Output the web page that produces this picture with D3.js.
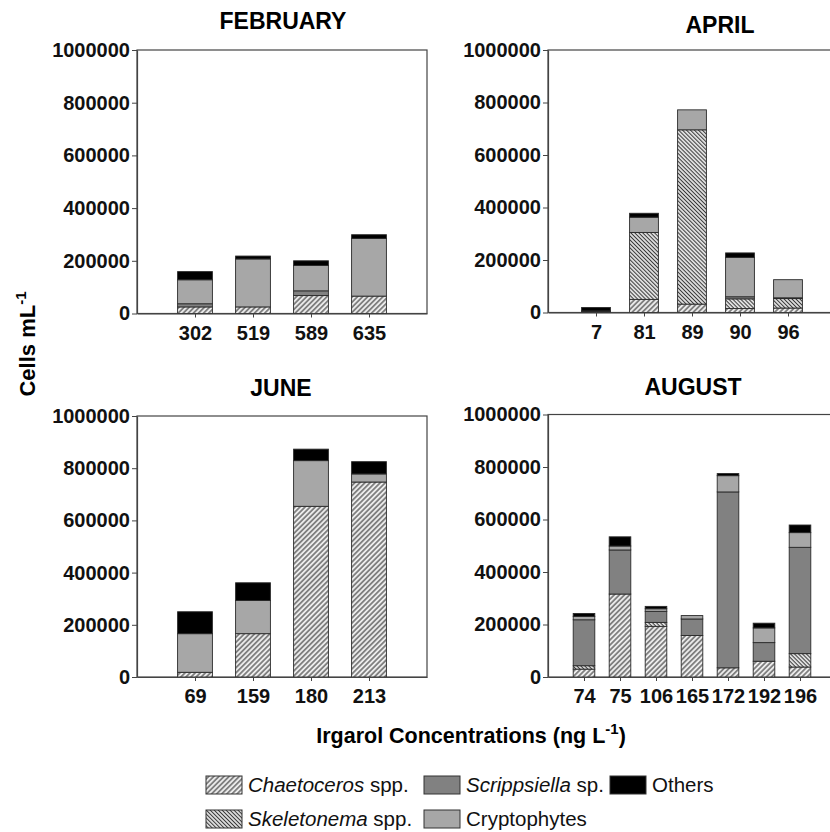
<!DOCTYPE html>
<html>
<head>
<meta charset="utf-8">
<script src="https://cdn.jsdelivr.net/npm/d3@7"></script>
<style>
  body { margin: 0; background: #fff; }
  svg { font-family: "Liberation Sans", Arial, sans-serif; }
  .axis path, .axis line { stroke: #444; }
  .axis text { font-size: 20px; font-weight: bold; fill: #111; }
</style>
</head>
<body>
<svg id="chart" width="830" height="832"></svg>
<script>
// stack order, bottom to top
const groups = ["chaet", "skel", "scripp", "crypto", "others"];

// FEBRUARY
const febConc = ["302", "519", "589", "635"];
const febChaet = [25000, 25000, 68000, 66000];
const febSkel = [0, 0, 0, 0];
const febScripp = [12000, 0, 18000, 0];
const febCrypto = [91000, 182000, 96000, 219000];
const febOthers = [31000, 11000, 18000, 14000];

// APRIL
const aprConc = ["7", "81", "89", "90", "96"];
const aprChaet = [3000, 50000, 32000, 15000, 17000];
const aprSkel = [3000, 255000, 664000, 37000, 36000];
const aprScripp = [0, 0, 0, 8000, 3000];
const aprCrypto = [0, 58000, 76000, 150000, 69000];
const aprOthers = [13000, 15000, 0, 17000, 0];

// JUNE
const junConc = ["69", "159", "180", "213"];
const junChaet = [18000, 166000, 654000, 747000];
const junSkel = [0, 0, 0, 0];
const junScripp = [0, 0, 0, 0];
const junCrypto = [148000, 127000, 175000, 31000];
const junOthers = [84000, 68000, 44000, 47000];

// AUGUST
const augConc = ["74", "75", "106", "165", "172", "192", "196"];
const augChaet = [30000, 316000, 193000, 158000, 35000, 60000, 38000];
const augSkel = [13000, 0, 15000, 0, 0, 0, 51000];
const augScripp = [175000, 168000, 42000, 63000, 670000, 71000, 405000];
const augCrypto = [13000, 15000, 10000, 13000, 62000, 56000, 56000];
const augOthers = [11000, 35000, 9000, 0, 8000, 18000, 29000];

const yTicks = [0, 200000, 400000, 600000, 800000, 1000000];

const svg = d3.select("#chart");

/*
 * Patterns for the two diatoms
 */
const defs = svg.append("defs");
function hatch(id, angle, gap) {
    const p = defs.append("pattern")
        .attr("id", id)
        .attr("patternUnits", "userSpaceOnUse")
        .attr("width", gap)
        .attr("height", gap)
        .attr("patternTransform", `rotate(${angle})`);
    p.append("rect").attr("width", gap).attr("height", gap).attr("fill", "#ececec");
    p.append("line")
        .attr("x1", gap / 2).attr("y1", 0)
        .attr("x2", gap / 2).attr("y2", gap)
        .attr("stroke", "#3a3a3a")
        .attr("stroke-width", 1.1);
}
hatch("hatchChaet", 45, 3.6);
hatch("hatchSkel", -45, 2.8);

const fills = {
    chaet: "url(#hatchChaet)",
    skel: "url(#hatchSkel)",
    scripp: "#818181",
    crypto: "#a7a7a7",
    others: "#000"
};

/**
 * One stacked bar panel
 */
function drawPanel(opt) {
    const rows = opt.conc.map((c, i) => ({
        conc: c,
        chaet: opt.chaet[i],
        skel: opt.skel[i],
        scripp: opt.scripp[i],
        crypto: opt.crypto[i],
        others: opt.others[i]
    }));

    const x = d3.scalePoint()
        .domain(opt.conc)
        .range([opt.left, opt.right])
        .padding(1);
    const y = d3.scaleLinear()
        .domain([0, 1000000])
        .range([opt.bottom, opt.top]);
    const bw = x.step() * 0.6;

    const g = svg.append("g");

    // frame
    g.append("rect")
        .attr("x", opt.left).attr("y", opt.top)
        .attr("width", opt.right - opt.left)
        .attr("height", opt.bottom - opt.top)
        .attr("fill", "none")
        .attr("stroke", "#444")
        .attr("stroke-width", 1.2);

    const stacked = d3.stack().keys(groups)(rows);

    g.selectAll("g.layer")
        .data(stacked)
        .enter()
        .append("g")
        .attr("class", "layer")
        .attr("fill", d => fills[d.key])
        .selectAll("rect")
        .data(d => d.filter(s => s[1] > s[0]))
        .enter()
        .append("rect")
        .attr("x", d => x(d.data.conc) - bw / 2)
        .attr("y", d => y(d[1]))
        .attr("width", bw)
        .attr("height", d => y(d[0]) - y(d[1]))
        .attr("stroke", "#2a2a2a")
        .attr("stroke-width", 0.9);

    g.append("g")
        .attr("class", "axis")
        .attr("transform", `translate(0,${opt.bottom})`)
        .call(d3.axisBottom(x).tickSize(4).tickPadding(8).tickSizeOuter(0));

    g.append("g")
        .attr("class", "axis")
        .attr("transform", `translate(${opt.left},0)`)
        .call(d3.axisLeft(y).tickValues(yTicks).tickFormat(d3.format("d")).tickSize(5).tickPadding(2).tickSizeOuter(0));

    g.selectAll(".axis .domain").attr("stroke-width", 1.2);

    g.append("text")
        .attr("x", opt.titleX)
        .attr("y", opt.titleY)
        .attr("text-anchor", "middle")
        .attr("font-size", 23)
        .attr("font-weight", "bold")
        .text(opt.title);
}

drawPanel({ title: "FEBRUARY", titleX: 283, titleY: 29, left: 137, right: 427, top: 50, bottom: 313.5,
    conc: febConc, chaet: febChaet, skel: febSkel, scripp: febScripp, crypto: febCrypto, others: febOthers });
drawPanel({ title: "APRIL", titleX: 720, titleY: 33, left: 548, right: 836, top: 50, bottom: 312.5,
    conc: aprConc, chaet: aprChaet, skel: aprSkel, scripp: aprScripp, crypto: aprCrypto, others: aprOthers });
drawPanel({ title: "JUNE", titleX: 281, titleY: 396, left: 137, right: 427, top: 416, bottom: 677,
    conc: junConc, chaet: junChaet, skel: junSkel, scripp: junScripp, crypto: junCrypto, others: junOthers });
drawPanel({ title: "AUGUST", titleX: 693, titleY: 395, left: 548, right: 836, top: 414.5, bottom: 677,
    conc: augConc, chaet: augChaet, skel: augSkel, scripp: augScripp, crypto: augCrypto, others: augOthers });

// y title
const yt = svg.append("text")
    .attr("transform", "translate(35,344) rotate(-90)")
    .attr("text-anchor", "middle")
    .attr("font-size", 22)
    .attr("font-weight", "bold");
yt.append("tspan").text("Cells mL");
yt.append("tspan").attr("font-size", 15).attr("dy", -9).text("-1");

// x title
const xt = svg.append("text")
    .attr("x", 471)
    .attr("y", 743)
    .attr("text-anchor", "middle")
    .attr("font-size", 21.5)
    .attr("font-weight", "bold");
xt.append("tspan").text("Irgarol Concentrations (ng L");
xt.append("tspan").attr("font-size", 15).attr("dy", -9).text("-1");
xt.append("tspan").attr("dy", 9).text(")");

/*
 * Legend
 */
const legendKeys = ["chaet", "scripp", "others", "skel", "crypto"];
const legendItalic = ["Chaetoceros", "Scrippsiella", "", "Skeletonema", ""];
const legendPlain = [" spp.", " sp.", "Others", " spp.", "Cryptophytes"];
const legendSwatchX = [206, 424, 610, 206, 424];
const legendRow = [0, 0, 0, 1, 1];

const leg = svg.append("g");
legendKeys.forEach((k, i) => {
    const cy = legendRow[i] === 0 ? 785 : 819;
    leg.append("rect")
        .attr("x", legendSwatchX[i]).attr("y", cy - 9)
        .attr("width", 36).attr("height", 18)
        .attr("fill", fills[k])
        .attr("stroke", "#333")
        .attr("stroke-width", 1);
    const t = leg.append("text")
        .attr("x", legendSwatchX[i] + 42)
        .attr("y", cy + 7)
        .attr("font-size", 20.5)
        .attr("fill", "#111");
    if (legendItalic[i]) t.append("tspan").attr("font-style", "italic").text(legendItalic[i]);
    t.append("tspan").text(legendPlain[i]);
});
</script>
</body>
</html>
